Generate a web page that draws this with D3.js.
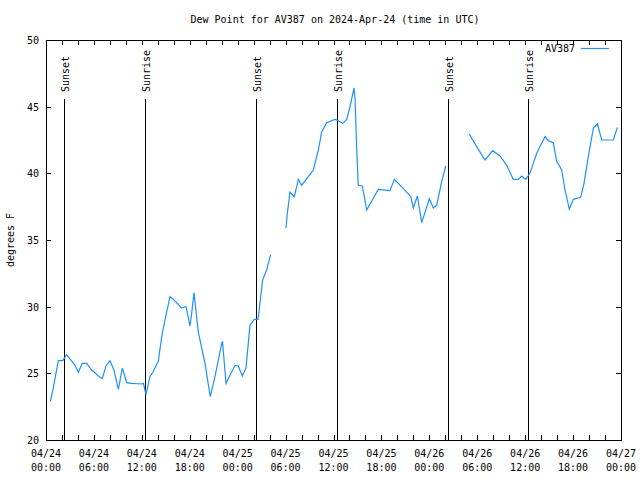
<!DOCTYPE html>
<html><head><meta charset="utf-8">
<script src="https://cdn.jsdelivr.net/npm/d3@7"></script>
<style>body{margin:0;background:#fff}svg{display:block}text{font-family:"DejaVu Sans Mono",monospace;font-size:10px;fill:#000}</style>
</head><body>
<script>
// hours since 2024-04-24 00:00 UTC; null value = gap in record
const hours = [0.54,0.92,1.54,2.09,2.25,2.59,3.63,4.05,4.55,5.1,5.72,6.55,7.05,7.51,8.01,8.51,9.06,9.56,10.1,10.73,11.98,12.2,12.52,13.02,13.4,14.06,14.49,14.9,15.53,15.94,16.99,17.53,18.03,18.24,18.53,19.07,19.91,20.57,21.16,22.0,22.1,22.54,23.67,24.08,24.58,25.04,25.54,26.08,26.55,27.13,27.63,28.13,
  29.0,
  30.05,30.2,30.55,31.09,31.6,32.01,32.85,33.47,34.1,34.52,35.15,36.19,36.6,37.15,37.65,38.07,38.57,38.7,38.9,39.1,39.6,39.86,40.15,41.61,43.08,43.62,44.75,45.67,46.0,46.5,47.05,48.0,48.5,48.92,49.55,50.05,
  51.5,
  53.0,53.93,54.97,55.93,56.85,57.68,58.51,59.14,59.56,60.07,60.6,61.44,62.48,62.9,63.52,63.95,64.57,64.99,65.53,66.03,66.95,67.37,67.91,68.54,69.04,69.59,71.04,71.54];
const dewF = [22.9,23.9,25.95,25.95,26.1,26.4,25.6,25.1,25.75,25.75,25.25,24.8,24.6,25.55,25.95,25.25,23.8,25.4,24.3,24.25,24.2,24.25,23.4,24.75,25.1,25.9,27.75,29.0,30.75,30.55,29.9,30.0,28.55,29.5,31.05,28.1,25.75,23.25,24.75,27.25,27.4,24.25,25.6,25.55,24.8,25.4,28.6,29.05,29.05,32.0,32.75,33.9,
  null,
  35.9,36.9,38.6,38.25,39.55,39.1,39.75,40.25,41.75,43.1,43.8,44.05,43.95,43.75,44.05,45.0,46.4,45.6,41.9,39.1,39.05,38.25,37.25,38.8,38.7,39.55,38.85,38.25,37.4,38.3,36.3,38.1,37.4,37.6,39.4,40.55,
  null,
  42.95,42.0,41.0,41.7,41.3,40.6,39.55,39.55,39.8,39.55,40.0,41.5,42.75,42.45,42.3,40.9,40.25,38.75,37.3,38.05,38.2,39.25,41.25,43.4,43.7,42.5,42.5,43.45];
const sunsetHours = [2.25, 26.3, 50.33];
const sunriseHours = [12.42, 36.44, 60.36];
const yTicks = [20,25,30,35,40,45,50];
const seriesName = "AV387";
const titleText = "Dew Point for AV387 on 2024-Apr-24 (time in UTC)";
const yLabel = "degrees F";

const t0 = Date.UTC(2024,3,24,0,0);
const toDate = h => new Date(t0 + h*3600000);
const data = hours.map((h,i)=>({t:toDate(h), v:dewF[i]}));

const W=640,H=480, L=46, R=621, T=40, B=440;
const svg = d3.select("body").append("svg").attr("width",W).attr("height",H);
const x = d3.scaleUtc().domain([toDate(0), toDate(72)]).range([L,R]);
const y = d3.scaleLinear().domain([20,50]).range([B,T]);

// title
svg.append("text").attr("x",335).attr("y",23).attr("text-anchor","middle").text(titleText);

// ticks
const minor = d3.range(0,73,2).map(toDate);
const major = d3.range(0,73,6).map(toDate);
const g = svg.append("g").attr("stroke","#000").attr("stroke-width",1).attr("shape-rendering","crispEdges");
minor.forEach(d=>{
  const xx = Math.round(x(d))+0.5;
  g.append("line").attr("x1",xx).attr("x2",xx).attr("y1",B).attr("y2",B-5);
  g.append("line").attr("x1",xx).attr("x2",xx).attr("y1",T).attr("y2",T+5);
});
yTicks.forEach(v=>{
  const yy = Math.round(y(v))+0.5;
  g.append("line").attr("x1",L).attr("x2",L+5).attr("y1",yy).attr("y2",yy);
  g.append("line").attr("x1",R).attr("x2",R-5).attr("y1",yy).attr("y2",yy);
  svg.append("text").attr("x",39).attr("y",y(v)+4).attr("text-anchor","end").text(v);
});
const fmtD = d3.utcFormat("%m/%d"), fmtT = d3.utcFormat("%H:%M");
major.forEach(d=>{
  const t = svg.append("text").attr("text-anchor","middle");
  t.append("tspan").attr("x",x(d)).attr("y",457).text(fmtD(d));
  t.append("tspan").attr("x",x(d)).attr("y",471).text(fmtT(d));
});

// sun lines
const sun = sunsetHours.map(h=>({h,l:"Sunset"})).concat(sunriseHours.map(h=>({h,l:"Sunrise"})));
sun.forEach(s=>{
  const xx = Math.round(x(toDate(s.h)))+0.5;
  g.append("line").attr("x1",xx).attr("x2",xx).attr("y1",99).attr("y2",B);
  svg.append("text").attr("transform",`translate(${xx+4},92) rotate(-90)`).attr("text-anchor","start").text(s.l);
});

// axis label
svg.append("text").attr("transform","translate(14,240) rotate(-90)").attr("text-anchor","middle").text(yLabel);

// data line
const line = d3.line().defined(d=>d.v!==null).x(d=>x(d.t)).y(d=>y(d.v));
svg.append("path").datum(data).attr("d",line).attr("fill","none").attr("stroke","#1e90ff").attr("stroke-width",1.2);

// border
svg.append("rect").attr("x",L+0.5).attr("y",T+0.5).attr("width",R-L).attr("height",B-T).attr("fill","none").attr("stroke","#000").attr("shape-rendering","crispEdges");

// legend
svg.append("text").attr("x",575).attr("y",52).attr("text-anchor","end").text(seriesName);
svg.append("line").attr("x1",581).attr("x2",609).attr("y1",48.5).attr("y2",48.5).attr("stroke","#1e90ff").attr("stroke-width",1.2);
</script>
</body></html>
